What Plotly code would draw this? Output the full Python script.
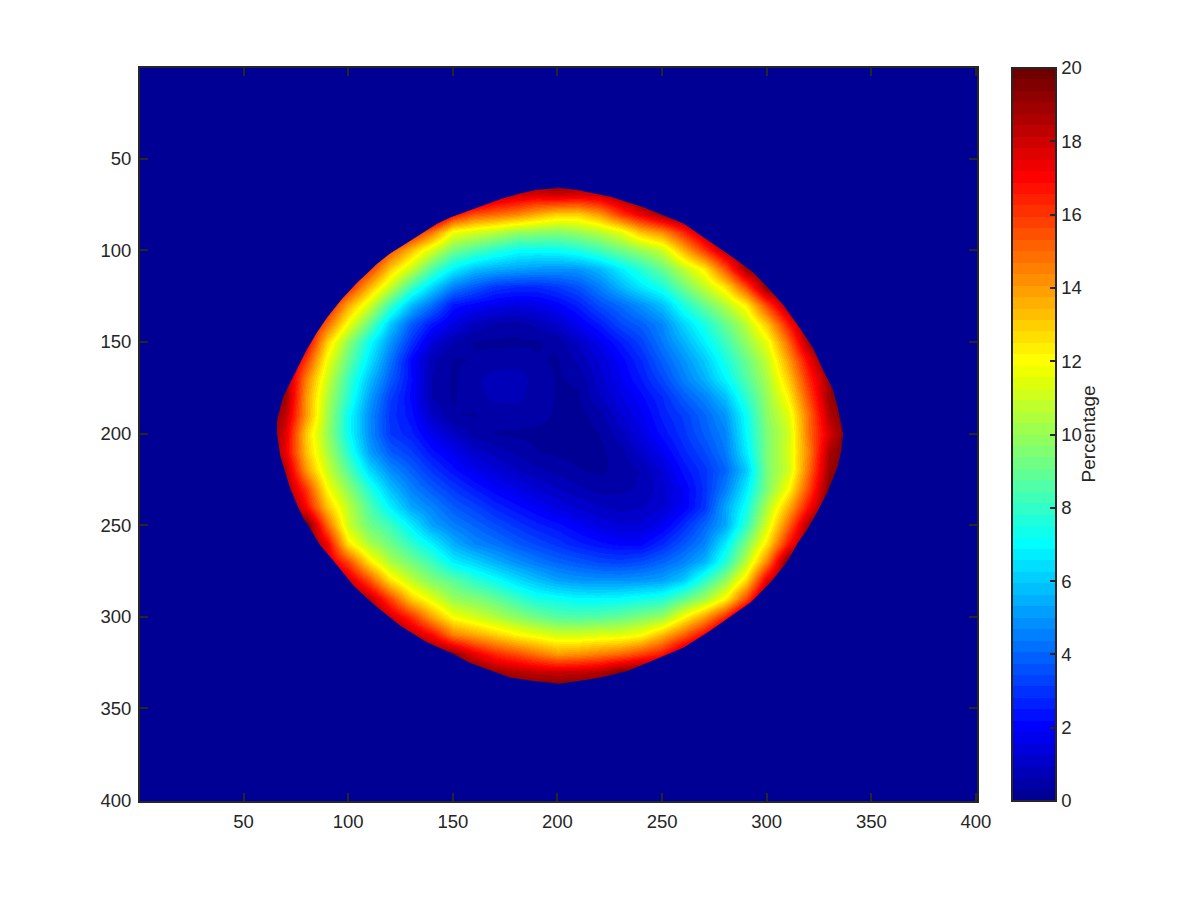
import plotly.graph_objects as go

x_grid = list(range(60, 341, 10))
y_grid = list(range(60, 341, 10))

# One row per y value, 29 values per row (x = 60 ... 340).
percent_by_row = [
 [20]*29,
 [20]*11 + [18.5,18,17.7,18,17.7,18,19] + [20]*11,
 [20]*9 + [17,15.5,15,14.5,13.7,13,13,14,16,17.5,19] + [20]*9,
 [20]*7 + [17,14.7,11.8,11.2,10.7,10,9.8,9.6,10,10.6,11.5,13.3,14.3,16.3,18.5] + [20]*7,
 [20]*5 + [18,15.5,13.3,11.2,9.3,8.5,7.8,7.2,7.1,7.2,7.6,8.3,9.2,10,11,13.5,16,18.5,20] + [20]*5,
 [20]*4 + [18,16,13,10.9,8.5,6.8,5.8,5.4,5.2,5,4.9,5,5.6,6.7,7.8,9,10.7,12.3,15.4,19,20] + [20]*4,
 [20]*4 + [16.5,13.5,10.9,8.2,6.2,4.5,3.7,3,2.8,2.8,3.1,3.6,4.5,5.6,6.6,7.5,9.2,10.8,12.5,15.6,19.5,20] + [20]*3,
 [20]*3 + [17,13.7,11.2,8.2,5.7,4.1,2.4,2,1.7,1.5,1.6,2,2.6,3.5,4.1,4.9,5.8,7.5,9,10.5,12.3,15.8,19] + [20]*3,
 [20]*2 + [18,15,11.8,9,6,3.8,2.4,1.5,0.85,0.55,0.45,0.7,1.1,1.8,2.5,3.4,3.9,4.7,6.2,7.5,9,10.7,13.2,16.6,20] + [20]*2,
 [20]*2 + [17.5,12.9,9.8,7.2,5,3,1.3,0.6,0.28,0.25,0.25,0.27,0.4,1,1.7,2.5,3.3,4.4,5.5,6.8,8.2,9.9,11.7,15,19] + [20]*2,
 [20,19,15.9,11.8,9,6.6,4.3,2.1,0.7,0.27,0.33,0.45,0.5,0.35,0.27,0.7,1.3,2,2.8,3.9,4.9,6,7.5,9.1,10.9,13.9,17.3,20,20],
 [20,19,14.5,11,8.2,5.8,3.8,2.2,0.6,0.25,0.55,0.8,0.8,0.5,0.28,0.35,1.1,1.8,2.5,3.4,4.5,5.5,6.9,8.6,10.4,13,16.4,19,20],
 [20,19,14,10.5,7.8,5.2,3.2,2.1,0.6,0.28,0.5,0.7,0.7,0.5,0.28,0.28,0.9,1.5,2.1,2.8,3.8,4.6,5.8,7.9,10,12.2,15.7,19,20],
 [20,18.3,14,10.2,7.2,4.8,3,2.3,1,0.33,0.28,0.45,0.5,0.45,0.25,0.2,0.45,1.2,1.8,2.6,3.2,4,5,7.2,9.8,11.4,15,18.5,20],
 [20,17.7,13,10,7.2,4.8,3.1,2.6,1.7,1,0.5,0.29,0.25,0.22,0.2,0.2,0.3,0.8,1.5,2.3,3,3.8,4.6,7,9.5,11,15,17.8,20],
 [20,17.5,13.2,10.4,7.8,5.2,3.8,3.2,2.3,1.7,1.1,0.8,0.55,0.33,0.25,0.2,0.2,0.5,1.1,1.8,2.7,3.4,4.4,6.7,9.5,11.2,14.6,18.7,20],
 [20,18.5,14,11,8.7,6.3,4.8,3.9,3,2.3,1.7,1.3,0.95,0.7,0.5,0.33,0.25,0.4,0.65,1.3,2.3,3,4,6,9.5,11,15,19,20],
 [20,19,16,12,9.8,7.7,5.8,4.6,3.8,3.1,2.5,2,1.6,1.25,0.95,0.7,0.5,0.55,0.7,1.1,1.9,2.9,4.5,6.7,9.5,12,15.8,19.5,20],
 [20,20,17,13.2,10.7,8.6,6.8,5.3,4.6,3.8,3.3,2.7,2.3,1.9,1.5,1.2,0.95,0.8,0.9,1.2,1.9,3,5.3,7.3,10.5,13.5,17,20,20],
 [20,20,20,15,11,9.2,8.2,6.7,5.2,4.5,4,3.5,3,2.6,2.3,1.9,1.5,1.3,1.3,1.8,2.8,4,5.3,8,11.3,15,19,20,20],
 [20,20,20,17.3,12.5,10.4,9.2,8,6.8,5.5,4.7,4.3,3.8,3.4,3,2.6,2.3,2.1,2.1,2.8,3.7,4.6,6.7,9.5,12.6,16.7,20,20,20],
 [20,20,20,18] + [15.7,12.5,10.4,9.3,8.2,6.8,6.2,5.5,4.9,4.4,4,3.7,3.4,3.3,3.5,4,4.6,5.6,7.7,10.7,14.6,20] + [20]*3,
 [20]*4 + [18,15.5,12.5,10.8,9.5,8.8,7.9,7.2,6.4,5.8,5.2,5,4.9,4.9,5,5.2,6,7.9,9.8,12.7,17.7,20] + [20]*3,
 [20]*5 + [18.5,15.8,13,11.5,10,9.6,9,8.2,7.5,7.3,7,7,7.1,7.4,7.7,8.9,10.2,12.2,15.7,20] + [20]*4,
 [20]*6 + [18,16.2,13.8,11.9,11.2,10.5,9.8,9.2,8.7,8.6,8.7,9,9.5,10,12,13.9,16.4,20] + [20]*5,
 [20]*7 + [18.5,17,14.6,13.8,13,12.2,11.7,11.2,11.2,11.4,11.5,12,13.5,15.2,17.2,20] + [20]*6,
 [20]*9 + [19.3,17.5,16.3,15.6,14.8,14,14.2,14.6,15,15.8,16.7,19] + [20]*8,
 [20]*10 + [20,19,18.5,18.2,18.1,18.2,18.5,19.5,20] + [20]*10,
 [20]*29,
]

# Edge of the disc, read clockwise from the top
edge_x = [201,209,217,225.5,233.5,241,247.7,260.3,268,276.4,284,292.4,300.3,308,316,322,327,331.6,334,336.5,
          335.5,334,331.6,329,324,319.6,314.7,310,302,292.4,281.2,273,260.3,249.3,233.5,225,217,201,
          188.5,177,168,158,150.3,137.8,124.9,112,102.6,93,86.6,81.8,78.5,75.6,72.3,69.9,67.5,66,
          66,68.9,72.4,74.6,80,85,90,97,104,113.7,120,128,134.5,142.4,149,156.8,164.8,174,182,190,201]
edge_y = [66,67,68.8,70.8,73.7,76.5,79.8,85.4,91.5,98.2,104,110.9,120,130,142.6,153,165.5,176,186,200,
          210,217.5,224.6,232,243,252,260,269.5,281,292,301,307.6,316.7,322,329.5,332,333.8,336.5,
          335,333,329.4,325,320.3,314,304.8,293,283,269.4,261,252,246,239,230,221,212,200,
          192.8,180,172,167,154.6,145,136.5,126.5,118,107.5,101.7,96,91,85.5,82,79,75.4,71.6,69,66.9,66]

x_range = [0.5, 400.5]
y_range = [400.5, 0.5]
axis_ticks = [50, 100, 150, 200, 250, 300, 350, 400]
bar_ticks = [0, 2, 4, 6, 8, 10, 12, 14, 16, 18, 20]
bar_title = "Percentage"


def jet64():
    n = 16
    u = [(i + 1) / n for i in range(n)] + [1.0] * (n - 1) + [(n - i) / n for i in range(n)]
    red, green, blue = [0.0] * 64, [0.0] * 64, [0.0] * 64
    for k, value in enumerate(u):
        g = 7 + k
        if g < 64:
            green[g] = value
        if 0 <= g + n < 64:
            red[g + n] = value
        if 0 <= g - n < 64:
            blue[g - n] = value
    # the darkest blues of the reference sit slightly below the nominal jet values
    blue = [max(0.0, b - 12 / 255 * (1 - b) / (1 - 0.5625)) if b > 0 else 0.0 for b in blue]
    return [f"rgb({round(r*255)},{round(g*255)},{round(b*255)})" for r, g, b in zip(red, green, blue)]


jet = jet64()
stepped = []
for i, c in enumerate(jet):
    stepped += [[i / 64, c], [(i + 1) / 64, c]]

W, H, OFF = 1170, 870, 8
def fx(p):
    return (p - OFF) / W
def fy(p):
    return 1 - (p - OFF) / H

INK = "#262626"
FONT = "Liberation Sans"
TICK_SIZE = 18.5

fig = go.Figure()
fig.add_trace(go.Heatmap(
    x=x_grid, y=y_grid, z=percent_by_row, zmin=0, zmax=20, zsmooth="best",
    colorscale=stepped, hoverinfo="skip",
    colorbar=dict(
        x=fx(1012), xanchor="left", xpad=0, y=fy(801), yanchor="bottom", ypad=0,
        lenmode="fraction", len=fy(68) - fy(801), thicknessmode="pixels", thickness=44,
        outlinecolor=INK, outlinewidth=2, ticks="inside", ticklen=7, tickwidth=1.5, tickcolor=INK,
        tickmode="array", tickvals=bar_ticks, ticktext=[str(t) for t in bar_ticks],
        tickprefix="\u00a0", tickfont=dict(family=FONT, size=TICK_SIZE, color=INK),
    ),
))
# Everything outside the disc reads as the bottom of the colour scale
fig.add_trace(go.Scatter(
    x=[x_range[0], x_range[1], x_range[1], x_range[0], x_range[0]] + edge_x[::-1],
    y=[y_range[1], y_range[1], y_range[0], y_range[0], y_range[1]] + edge_y[::-1],
    mode="lines", line=dict(width=0, color=jet[0]), fill="toself", fillcolor=jet[0],
    hoverinfo="skip", showlegend=False,
))
axis_style = dict(
    showgrid=False, zeroline=False, showline=True, mirror="ticks", linecolor=INK, linewidth=2,
    ticks="inside", ticklen=8, tickwidth=1.5, tickcolor=INK, tickmode="array", ticklabelstandoff=3,
    tickfont=dict(family=FONT, size=TICK_SIZE, color=INK),
)
fig.update_layout(
    width=W, height=H, margin=dict(l=0, r=0, t=0, b=0, autoexpand=False), paper_bgcolor="white",
    plot_bgcolor=jet[0], showlegend=False, font=dict(family=FONT, color=INK),
    xaxis=dict(domain=[fx(140), fx(977)], range=x_range, tickvals=axis_ticks, **axis_style),
    yaxis=dict(domain=[fy(801), fy(68)], range=y_range, tickvals=axis_ticks, **axis_style),
    annotations=[dict(
        text=bar_title, xref="paper", yref="paper", x=fx(1100), y=fy(434), showarrow=False,
        textangle=-90, font=dict(family=FONT, size=19, color=INK),
    )],
)
fig.write_html("out.html")
